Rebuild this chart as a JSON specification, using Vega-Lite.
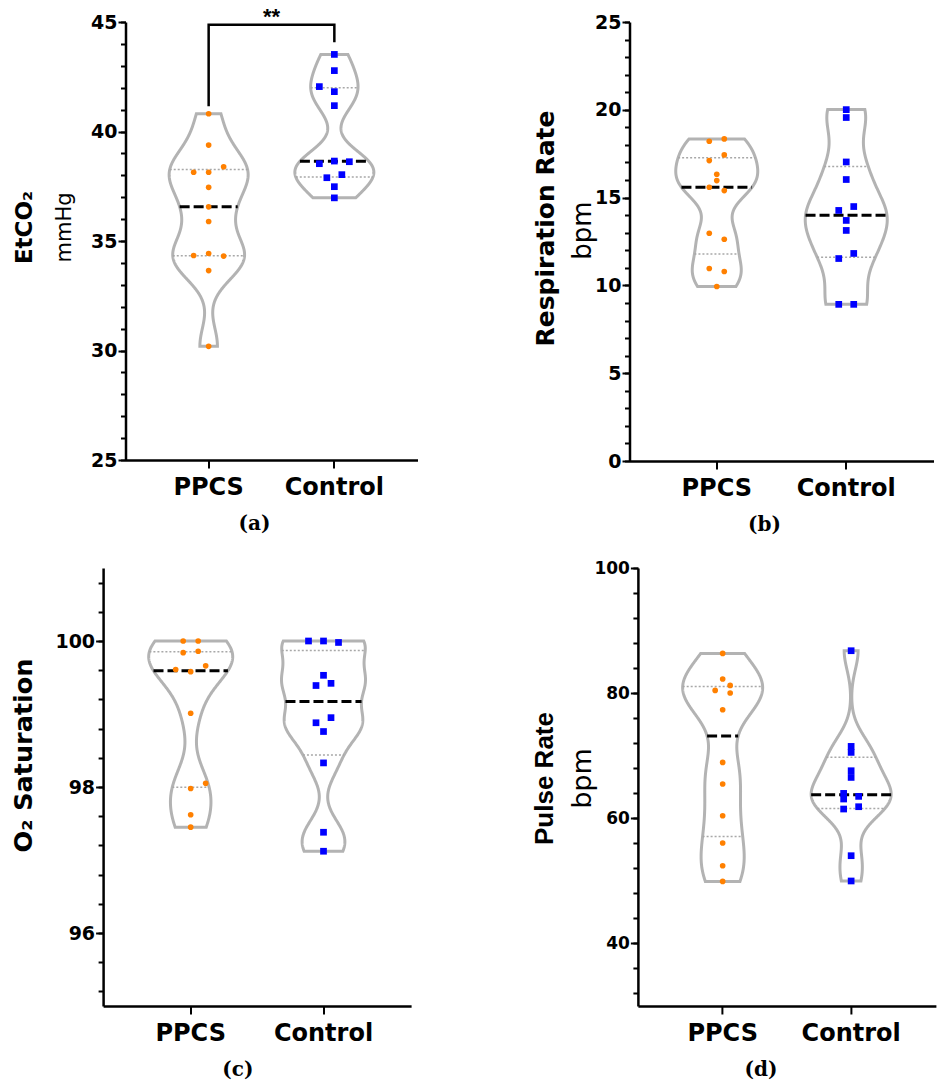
{
"$schema": "https://vega.github.io/schema/vega-lite/v6.json",
"padding": {"left": 11.5, "top": 5, "right": 0, "bottom": 2},
"config": {
  "view": {"stroke": null},
  "axis": {"grid": false, "domainColor": "black", "domainWidth": 2.5, "tickColor": "black", "tickWidth": 2, "labelColor": "black", "titleColor": "black", "labelFont": "DejaVu Sans", "labelFontWeight": "bold", "labelOverlap": false, "titleLimit": 1000}
},
"datasets": {
  "etco2": [
    {"group": "PPCS", "value": 40.81, "lane": 0}, {"group": "PPCS", "value": 39.38, "lane": 0}, {"group": "PPCS", "value": 38.39, "lane": 2}, {"group": "PPCS", "value": 38.14, "lane": -2}, {"group": "PPCS", "value": 38.14, "lane": 0}, {"group": "PPCS", "value": 37.45, "lane": 0}, {"group": "PPCS", "value": 36.56, "lane": 0}, {"group": "PPCS", "value": 35.89, "lane": 0}, {"group": "PPCS", "value": 34.43, "lane": 0}, {"group": "PPCS", "value": 34.34, "lane": -2}, {"group": "PPCS", "value": 34.31, "lane": 2}, {"group": "PPCS", "value": 33.65, "lane": 0}, {"group": "PPCS", "value": 30.19, "lane": 0},
    {"group": "Control", "value": 43.52, "lane": 0}, {"group": "Control", "value": 42.78, "lane": 0}, {"group": "Control", "value": 42.05, "lane": -2}, {"group": "Control", "value": 41.82, "lane": 0}, {"group": "Control", "value": 41.18, "lane": 0}, {"group": "Control", "value": 38.65, "lane": 0}, {"group": "Control", "value": 38.62, "lane": 2}, {"group": "Control", "value": 38.53, "lane": -2}, {"group": "Control", "value": 38.03, "lane": 1}, {"group": "Control", "value": 37.89, "lane": -1}, {"group": "Control", "value": 37.48, "lane": 0}, {"group": "Control", "value": 36.97, "lane": 0}
  ],
  "etco2_stats": [{"group": "PPCS", "med": 36.56, "q1": 34.325, "q3": 38.265}, {"group": "Control", "med": 38.635, "q1": 37.925, "q3": 41.99}],
  "etco2_sig": [{"group": "PPCS", "value": 41.15, "ord": 1}, {"group": "PPCS", "value": 44.88, "ord": 2}, {"group": "Control", "value": 44.88, "ord": 3}, {"group": "Control", "value": 44.07, "ord": 4}],
  "etco2_star": [{"group": "PPCS", "value": 44.88, "label": "**"}],
  "resp": [
    {"group": "PPCS", "value": 18.34, "lane": 1}, {"group": "PPCS", "value": 18.21, "lane": -1}, {"group": "PPCS", "value": 17.43, "lane": 1}, {"group": "PPCS", "value": 17.11, "lane": -1}, {"group": "PPCS", "value": 16.33, "lane": 0}, {"group": "PPCS", "value": 15.97, "lane": 0}, {"group": "PPCS", "value": 15.59, "lane": -1}, {"group": "PPCS", "value": 15.40, "lane": 1}, {"group": "PPCS", "value": 12.97, "lane": -1}, {"group": "PPCS", "value": 12.63, "lane": 1}, {"group": "PPCS", "value": 10.96, "lane": -1}, {"group": "PPCS", "value": 10.79, "lane": 1}, {"group": "PPCS", "value": 9.94, "lane": 0},
    {"group": "Control", "value": 20.01, "lane": 0}, {"group": "Control", "value": 19.56, "lane": 0}, {"group": "Control", "value": 17.03, "lane": 0}, {"group": "Control", "value": 16.03, "lane": 0}, {"group": "Control", "value": 14.49, "lane": 1}, {"group": "Control", "value": 14.27, "lane": -1}, {"group": "Control", "value": 13.70, "lane": 0}, {"group": "Control", "value": 13.13, "lane": 0}, {"group": "Control", "value": 11.82, "lane": 1}, {"group": "Control", "value": 11.53, "lane": -1}, {"group": "Control", "value": 8.92, "lane": -1}, {"group": "Control", "value": 8.92, "lane": 1}
  ],
  "resp_stats": [{"group": "PPCS", "med": 15.59, "q1": 11.795, "q3": 17.27}, {"group": "Control", "med": 13.985, "q1": 11.60, "q3": 16.78}],
  "o2": [
    {"group": "PPCS", "value": 100.0, "lane": -1}, {"group": "PPCS", "value": 100.0, "lane": 1}, {"group": "PPCS", "value": 99.86, "lane": 1}, {"group": "PPCS", "value": 99.84, "lane": -1}, {"group": "PPCS", "value": 99.66, "lane": 2}, {"group": "PPCS", "value": 99.61, "lane": -2}, {"group": "PPCS", "value": 99.58, "lane": 0}, {"group": "PPCS", "value": 99.01, "lane": 0}, {"group": "PPCS", "value": 98.05, "lane": 2}, {"group": "PPCS", "value": 97.98, "lane": 0}, {"group": "PPCS", "value": 97.62, "lane": 0}, {"group": "PPCS", "value": 97.45, "lane": 0},
    {"group": "Control", "value": 100.0, "lane": -2}, {"group": "Control", "value": 100.0, "lane": 0}, {"group": "Control", "value": 99.98, "lane": 2}, {"group": "Control", "value": 99.53, "lane": 0}, {"group": "Control", "value": 99.42, "lane": 1}, {"group": "Control", "value": 99.39, "lane": -1}, {"group": "Control", "value": 98.95, "lane": 1}, {"group": "Control", "value": 98.88, "lane": -1}, {"group": "Control", "value": 98.76, "lane": 0}, {"group": "Control", "value": 98.33, "lane": 0}, {"group": "Control", "value": 97.38, "lane": 0}, {"group": "Control", "value": 97.12, "lane": 0}
  ],
  "o2_stats": [{"group": "PPCS", "med": 99.595, "q1": 97.998, "q3": 99.855}, {"group": "Control", "med": 99.17, "q1": 98.44, "q3": 99.87}],
  "pulse": [
    {"group": "PPCS", "value": 86.35, "lane": 0}, {"group": "PPCS", "value": 82.26, "lane": 0}, {"group": "PPCS", "value": 81.24, "lane": 1}, {"group": "PPCS", "value": 80.44, "lane": -1}, {"group": "PPCS", "value": 80.02, "lane": 1}, {"group": "PPCS", "value": 77.35, "lane": 0}, {"group": "PPCS", "value": 68.93, "lane": 0}, {"group": "PPCS", "value": 65.48, "lane": 0}, {"group": "PPCS", "value": 60.41, "lane": 0}, {"group": "PPCS", "value": 56.05, "lane": 0}, {"group": "PPCS", "value": 52.42, "lane": 0}, {"group": "PPCS", "value": 49.91, "lane": 0},
    {"group": "Control", "value": 86.78, "lane": 0}, {"group": "Control", "value": 71.49, "lane": 0}, {"group": "Control", "value": 70.53, "lane": 0}, {"group": "Control", "value": 67.60, "lane": 0}, {"group": "Control", "value": 66.53, "lane": 0}, {"group": "Control", "value": 63.98, "lane": -1}, {"group": "Control", "value": 63.08, "lane": -1}, {"group": "Control", "value": 63.50, "lane": 1}, {"group": "Control", "value": 61.48, "lane": -1}, {"group": "Control", "value": 61.85, "lane": 1}, {"group": "Control", "value": 54.02, "lane": 0}, {"group": "Control", "value": 49.98, "lane": 0}
  ],
  "pulse_stats": [{"group": "PPCS", "med": 73.14, "q1": 57.14, "q3": 81.04}, {"group": "Control", "med": 63.74, "q1": 61.57, "q3": 69.80}]
},
"spacing": 24,
"vconcat": [
{"hconcat": [
{
 "width": 292, "height": 438,
 "title": {"text": "(a)", "orient": "bottom", "anchor": "middle", "frame": "group", "font": "DejaVu Serif", "fontSize": 20, "fontWeight": "bold", "color": "black", "offset": 15, "dx": -17},
 "layer": [
   {"data": {"name": "etco2"},
    "transform": [{"filter": "datum.group === 'PPCS'"}, {"density": "value", "groupby": ["group"], "bandwidth": 0.95, "steps": 400}, {"stack": "density", "groupby": ["value"], "offset": "center", "as": ["lo", "hi"]}],
    "mark": {"type": "area", "orient": "horizontal", "fill": "white", "stroke": "#b3b3b3", "strokeWidth": 3},
    "encoding": {
     "y": {"field": "value", "type": "quantitative", "scale": {"domain": [25, 45], "nice": false, "zero": false}, "axis": {"orient": "left", "values": [25,26,27,28,29,30,31,32,33,34,35,36,37,38,39,40,41,42,43,44,45], "tickSize": 5, "labels": false, "domain": false, "title": null}},
     "x": {"field": "lo", "type": "quantitative", "scale": {"range": [43.65, 122.65], "zero": false, "nice": false}, "axis": null},
     "x2": {"field": "hi"}}},
   {"data": {"name": "etco2"},
    "transform": [{"filter": "datum.group === 'PPCS'"}, {"density": "value", "groupby": ["group"], "bandwidth": 0.95, "steps": 400}, {"stack": "density", "groupby": ["value"], "offset": "center", "as": ["lo", "hi"]}, {"joinaggregate": [{"op": "min", "field": "value", "as": "vmin"}, {"op": "max", "field": "value", "as": "vmax"}]}, {"lookup": "group", "from": {"data": {"name": "etco2_stats"}, "key": "group", "fields": ["med", "q1", "q3"]}}],
    "mark": {"type": "rule", "stroke": "#a8a8a8", "strokeWidth": 1.5, "strokeDash": [2, 2]},
    "encoding": {
     "y": {"field": "value", "type": "quantitative", "scale": {"domain": [25, 45], "nice": false, "zero": false}, "axis": null},
     "x": {"field": "lo", "type": "quantitative", "scale": {"range": [43.65, 122.65], "zero": false, "nice": false}, "axis": null},
     "x2": {"field": "hi"},
     "strokeOpacity": {"condition": {"test": "abs(datum.value - datum.q1) <= (datum.vmax - datum.vmin) / 800 || abs(datum.value - datum.q3) <= (datum.vmax - datum.vmin) / 800", "value": 1}, "value": 0}}},
   {"data": {"name": "etco2"},
    "transform": [{"filter": "datum.group === 'PPCS'"}, {"density": "value", "groupby": ["group"], "bandwidth": 0.95, "steps": 400}, {"stack": "density", "groupby": ["value"], "offset": "center", "as": ["lo", "hi"]}, {"joinaggregate": [{"op": "min", "field": "value", "as": "vmin"}, {"op": "max", "field": "value", "as": "vmax"}]}, {"lookup": "group", "from": {"data": {"name": "etco2_stats"}, "key": "group", "fields": ["med", "q1", "q3"]}}],
    "mark": {"type": "rule", "stroke": "black", "strokeWidth": 3, "strokeDash": [10, 4]},
    "encoding": {
     "y": {"field": "value", "type": "quantitative", "scale": {"domain": [25, 45], "nice": false, "zero": false}, "axis": null},
     "x": {"field": "lo", "type": "quantitative", "scale": {"range": [43.65, 122.65], "zero": false, "nice": false}, "axis": null},
     "x2": {"field": "hi"},
     "strokeOpacity": {"condition": {"test": "abs(datum.value - datum.med) <= (datum.vmax - datum.vmin) / 800", "value": 1}, "value": 0}}},
   {"data": {"name": "etco2"},
    "transform": [{"filter": "datum.group === 'Control'"}, {"density": "value", "groupby": ["group"], "bandwidth": 0.75, "steps": 400}, {"stack": "density", "groupby": ["value"], "offset": "center", "as": ["lo", "hi"]}],
    "mark": {"type": "area", "orient": "horizontal", "fill": "white", "stroke": "#b3b3b3", "strokeWidth": 3},
    "encoding": {
     "y": {"field": "value", "type": "quantitative", "scale": {"domain": [25, 45], "nice": false, "zero": false}, "axis": {"orient": "left", "domain": false, "ticks": false, "labels": false, "title": "EtCO₂", "titleFont": "DejaVu Sans", "titleFontSize": 23, "titleFontWeight": "bold", "titleAngle": -90, "titleX": -94, "titleY": 205, "titleAlign": "center", "titleBaseline": "alphabetic"}},
     "x": {"field": "lo", "type": "quantitative", "scale": {"range": [169.35, 248.35], "zero": false, "nice": false}, "axis": null},
     "x2": {"field": "hi"}}},
   {"data": {"name": "etco2"},
    "transform": [{"filter": "datum.group === 'Control'"}, {"density": "value", "groupby": ["group"], "bandwidth": 0.75, "steps": 400}, {"stack": "density", "groupby": ["value"], "offset": "center", "as": ["lo", "hi"]}, {"joinaggregate": [{"op": "min", "field": "value", "as": "vmin"}, {"op": "max", "field": "value", "as": "vmax"}]}, {"lookup": "group", "from": {"data": {"name": "etco2_stats"}, "key": "group", "fields": ["med", "q1", "q3"]}}],
    "mark": {"type": "rule", "stroke": "#a8a8a8", "strokeWidth": 1.5, "strokeDash": [2, 2]},
    "encoding": {
     "y": {"field": "value", "type": "quantitative", "scale": {"domain": [25, 45], "nice": false, "zero": false}, "axis": null},
     "x": {"field": "lo", "type": "quantitative", "scale": {"range": [169.35, 248.35], "zero": false, "nice": false}, "axis": null},
     "x2": {"field": "hi"},
     "strokeOpacity": {"condition": {"test": "abs(datum.value - datum.q1) <= (datum.vmax - datum.vmin) / 800 || abs(datum.value - datum.q3) <= (datum.vmax - datum.vmin) / 800", "value": 1}, "value": 0}}},
   {"data": {"name": "etco2"},
    "transform": [{"filter": "datum.group === 'Control'"}, {"density": "value", "groupby": ["group"], "bandwidth": 0.75, "steps": 400}, {"stack": "density", "groupby": ["value"], "offset": "center", "as": ["lo", "hi"]}, {"joinaggregate": [{"op": "min", "field": "value", "as": "vmin"}, {"op": "max", "field": "value", "as": "vmax"}]}, {"lookup": "group", "from": {"data": {"name": "etco2_stats"}, "key": "group", "fields": ["med", "q1", "q3"]}}],
    "mark": {"type": "rule", "stroke": "black", "strokeWidth": 3, "strokeDash": [10, 4]},
    "encoding": {
     "y": {"field": "value", "type": "quantitative", "scale": {"domain": [25, 45], "nice": false, "zero": false}, "axis": null},
     "x": {"field": "lo", "type": "quantitative", "scale": {"range": [169.35, 248.35], "zero": false, "nice": false}, "axis": null},
     "x2": {"field": "hi"},
     "strokeOpacity": {"condition": {"test": "abs(datum.value - datum.med) <= (datum.vmax - datum.vmin) / 800", "value": 1}, "value": 0}}},
   {"data": {"name": "etco2_sig"},
    "mark": {"type": "line", "stroke": "black", "strokeWidth": 2.5, "strokeJoin": "miter"},
    "encoding": {
     "x": {"field": "group", "type": "nominal", "bandPosition": 0.5, "scale": {"type": "band", "domain": ["PPCS", "Control"], "paddingInner": 0, "paddingOuter": 0.1615}, "axis": null},
     "y": {"field": "value", "type": "quantitative", "scale": {"domain": [25, 45], "nice": false, "zero": false}, "axis": null},
     "order": {"field": "ord", "type": "quantitative"}}},
   {"data": {"name": "etco2_star"},
    "mark": {"type": "text", "font": "Liberation Sans", "fontSize": 22, "fontWeight": "bold", "baseline": "alphabetic", "align": "center", "dy": -1, "color": "black"},
    "encoding": {
     "x": {"field": "group", "type": "nominal", "bandPosition": 1, "scale": {"type": "band", "domain": ["PPCS", "Control"], "paddingInner": 0, "paddingOuter": 0.1615}, "axis": null},
     "y": {"field": "value", "type": "quantitative", "scale": {"domain": [25, 45], "nice": false, "zero": false}, "axis": null},
     "text": {"field": "label"}}},
   {"data": {"name": "etco2"},
    "transform": [{"filter": "datum.group === 'PPCS'"}],
    "mark": {"type": "circle", "color": "#ff8000", "size": 32, "opacity": 1},
    "encoding": {
     "x": {"field": "group", "type": "nominal", "scale": {"type": "band", "domain": ["PPCS", "Control"], "paddingInner": 0, "paddingOuter": 0.1615}, "axis": {"title": null, "labelAngle": 0, "labelFontSize": 24, "labelPadding": 7, "tickSize": 8, "bandPosition": 0.5}},
     "xOffset": {"field": "lane", "type": "ordinal", "scale": {"domain": [-2, -1, 0, 1, 2], "range": [47.85, 77.85], "paddingInner": 0, "paddingOuter": 0}},
     "y": {"field": "value", "type": "quantitative", "scale": {"domain": [25, 45], "nice": false, "zero": false}, "axis": {"orient": "left", "values": [25, 30, 35, 40, 45], "tickSize": 7.5, "labelFontSize": 19, "labelPadding": 1, "title": "mmHg", "titleFont": "DejaVu Sans", "titleFontSize": 21, "titleFontWeight": "normal", "titleAngle": -90, "titleX": -55, "titleY": 205, "titleAlign": "center", "titleBaseline": "alphabetic"}}}},
   {"data": {"name": "etco2"},
    "transform": [{"filter": "datum.group === 'Control'"}],
    "mark": {"type": "square", "color": "#0000ff", "size": 45, "opacity": 1, "filled": true},
    "encoding": {
     "x": {"field": "group", "type": "nominal", "scale": {"type": "band", "domain": ["PPCS", "Control"], "paddingInner": 0, "paddingOuter": 0.1615}, "axis": null},
     "xOffset": {"field": "lane", "type": "ordinal", "scale": {"domain": [-2, -1, 0, 1, 2], "range": [47.85, 77.85], "paddingInner": 0, "paddingOuter": 0}},
     "y": {"field": "value", "type": "quantitative", "scale": {"domain": [25, 45], "nice": false, "zero": false}, "axis": null}}}
 ],
 "resolve": {"scale": {"x": "independent", "xOffset": "independent"}, "axis": {"x": "independent", "y": "independent"}}
},
{
 "width": 304, "height": 439,
 "title": {"text": "(b)", "orient": "bottom", "anchor": "middle", "frame": "group", "font": "DejaVu Serif", "fontSize": 20, "fontWeight": "bold", "color": "black", "offset": 15, "dx": -17},
 "layer": [
   {"data": {"name": "resp"},
    "transform": [{"filter": "datum.group === 'PPCS'"}, {"density": "value", "groupby": ["group"], "bandwidth": 1.0, "steps": 400}, {"stack": "density", "groupby": ["value"], "offset": "center", "as": ["lo", "hi"]}],
    "mark": {"type": "area", "orient": "horizontal", "fill": "white", "stroke": "#b3b3b3", "strokeWidth": 3},
    "encoding": {
     "y": {"field": "value", "type": "quantitative", "scale": {"domain": [0, 25], "nice": false, "zero": false}, "axis": {"orient": "left", "values": [0,1,2,3,4,5,6,7,8,9,10,11,12,13,14,15,16,17,18,19,20,21,22,23,24,25], "tickSize": 5, "labels": false, "domain": false, "title": null}},
     "x": {"field": "lo", "type": "quantitative", "scale": {"range": [46.25, 128.25], "zero": false, "nice": false}, "axis": null},
     "x2": {"field": "hi"}}},
   {"data": {"name": "resp"},
    "transform": [{"filter": "datum.group === 'PPCS'"}, {"density": "value", "groupby": ["group"], "bandwidth": 1.0, "steps": 400}, {"stack": "density", "groupby": ["value"], "offset": "center", "as": ["lo", "hi"]}, {"joinaggregate": [{"op": "min", "field": "value", "as": "vmin"}, {"op": "max", "field": "value", "as": "vmax"}]}, {"lookup": "group", "from": {"data": {"name": "resp_stats"}, "key": "group", "fields": ["med", "q1", "q3"]}}],
    "mark": {"type": "rule", "stroke": "#a8a8a8", "strokeWidth": 1.5, "strokeDash": [2, 2]},
    "encoding": {
     "y": {"field": "value", "type": "quantitative", "scale": {"domain": [0, 25], "nice": false, "zero": false}, "axis": null},
     "x": {"field": "lo", "type": "quantitative", "scale": {"range": [46.25, 128.25], "zero": false, "nice": false}, "axis": null},
     "x2": {"field": "hi"},
     "strokeOpacity": {"condition": {"test": "abs(datum.value - datum.q1) <= (datum.vmax - datum.vmin) / 800 || abs(datum.value - datum.q3) <= (datum.vmax - datum.vmin) / 800", "value": 1}, "value": 0}}},
   {"data": {"name": "resp"},
    "transform": [{"filter": "datum.group === 'PPCS'"}, {"density": "value", "groupby": ["group"], "bandwidth": 1.0, "steps": 400}, {"stack": "density", "groupby": ["value"], "offset": "center", "as": ["lo", "hi"]}, {"joinaggregate": [{"op": "min", "field": "value", "as": "vmin"}, {"op": "max", "field": "value", "as": "vmax"}]}, {"lookup": "group", "from": {"data": {"name": "resp_stats"}, "key": "group", "fields": ["med", "q1", "q3"]}}],
    "mark": {"type": "rule", "stroke": "black", "strokeWidth": 3, "strokeDash": [10, 4]},
    "encoding": {
     "y": {"field": "value", "type": "quantitative", "scale": {"domain": [0, 25], "nice": false, "zero": false}, "axis": null},
     "x": {"field": "lo", "type": "quantitative", "scale": {"range": [46.25, 128.25], "zero": false, "nice": false}, "axis": null},
     "x2": {"field": "hi"},
     "strokeOpacity": {"condition": {"test": "abs(datum.value - datum.med) <= (datum.vmax - datum.vmin) / 800", "value": 1}, "value": 0}}},
   {"data": {"name": "resp"},
    "transform": [{"filter": "datum.group === 'Control'"}, {"density": "value", "groupby": ["group"], "bandwidth": 1.28, "steps": 400}, {"stack": "density", "groupby": ["value"], "offset": "center", "as": ["lo", "hi"]}],
    "mark": {"type": "area", "orient": "horizontal", "fill": "white", "stroke": "#b3b3b3", "strokeWidth": 3},
    "encoding": {
     "y": {"field": "value", "type": "quantitative", "scale": {"domain": [0, 25], "nice": false, "zero": false}, "axis": {"orient": "left", "domain": false, "ticks": false, "labels": false, "title": "Respiration Rate", "titleFont": "DejaVu Sans", "titleFontSize": 25, "titleFontWeight": "bold", "titleAngle": -90, "titleX": -75.7, "titleY": 206, "titleAlign": "center", "titleBaseline": "alphabetic"}},
     "x": {"field": "lo", "type": "quantitative", "scale": {"range": [175.75, 257.75], "zero": false, "nice": false}, "axis": null},
     "x2": {"field": "hi"}}},
   {"data": {"name": "resp"},
    "transform": [{"filter": "datum.group === 'Control'"}, {"density": "value", "groupby": ["group"], "bandwidth": 1.28, "steps": 400}, {"stack": "density", "groupby": ["value"], "offset": "center", "as": ["lo", "hi"]}, {"joinaggregate": [{"op": "min", "field": "value", "as": "vmin"}, {"op": "max", "field": "value", "as": "vmax"}]}, {"lookup": "group", "from": {"data": {"name": "resp_stats"}, "key": "group", "fields": ["med", "q1", "q3"]}}],
    "mark": {"type": "rule", "stroke": "#a8a8a8", "strokeWidth": 1.5, "strokeDash": [2, 2]},
    "encoding": {
     "y": {"field": "value", "type": "quantitative", "scale": {"domain": [0, 25], "nice": false, "zero": false}, "axis": null},
     "x": {"field": "lo", "type": "quantitative", "scale": {"range": [175.75, 257.75], "zero": false, "nice": false}, "axis": null},
     "x2": {"field": "hi"},
     "strokeOpacity": {"condition": {"test": "abs(datum.value - datum.q1) <= (datum.vmax - datum.vmin) / 800 || abs(datum.value - datum.q3) <= (datum.vmax - datum.vmin) / 800", "value": 1}, "value": 0}}},
   {"data": {"name": "resp"},
    "transform": [{"filter": "datum.group === 'Control'"}, {"density": "value", "groupby": ["group"], "bandwidth": 1.28, "steps": 400}, {"stack": "density", "groupby": ["value"], "offset": "center", "as": ["lo", "hi"]}, {"joinaggregate": [{"op": "min", "field": "value", "as": "vmin"}, {"op": "max", "field": "value", "as": "vmax"}]}, {"lookup": "group", "from": {"data": {"name": "resp_stats"}, "key": "group", "fields": ["med", "q1", "q3"]}}],
    "mark": {"type": "rule", "stroke": "black", "strokeWidth": 3, "strokeDash": [10, 4]},
    "encoding": {
     "y": {"field": "value", "type": "quantitative", "scale": {"domain": [0, 25], "nice": false, "zero": false}, "axis": null},
     "x": {"field": "lo", "type": "quantitative", "scale": {"range": [175.75, 257.75], "zero": false, "nice": false}, "axis": null},
     "x2": {"field": "hi"},
     "strokeOpacity": {"condition": {"test": "abs(datum.value - datum.med) <= (datum.vmax - datum.vmin) / 800", "value": 1}, "value": 0}}},
   {"data": {"name": "resp"},
    "transform": [{"filter": "datum.group === 'PPCS'"}],
    "mark": {"type": "circle", "color": "#ff8000", "size": 32, "opacity": 1},
    "encoding": {
     "x": {"field": "group", "type": "nominal", "scale": {"type": "band", "domain": ["PPCS", "Control"], "paddingInner": 0, "paddingOuter": 0.174}, "axis": {"title": null, "labelAngle": 0, "labelFontSize": 24, "labelPadding": 7, "tickSize": 8, "bandPosition": 0.5}},
     "xOffset": {"field": "lane", "type": "ordinal", "scale": {"domain": [-2, -1, 0, 1, 2], "range": [49.74, 79.74], "paddingInner": 0, "paddingOuter": 0}},
     "y": {"field": "value", "type": "quantitative", "scale": {"domain": [0, 25], "nice": false, "zero": false}, "axis": {"orient": "left", "values": [0, 5, 10, 15, 20, 25], "tickSize": 7.5, "labelFontSize": 19, "labelPadding": 1, "title": "bpm", "titleFont": "DejaVu Sans", "titleFontSize": 26, "titleFontWeight": "normal", "titleAngle": -90, "titleX": -39, "titleY": 208, "titleAlign": "center", "titleBaseline": "alphabetic"}}}},
   {"data": {"name": "resp"},
    "transform": [{"filter": "datum.group === 'Control'"}],
    "mark": {"type": "square", "color": "#0000ff", "size": 45, "opacity": 1, "filled": true},
    "encoding": {
     "x": {"field": "group", "type": "nominal", "scale": {"type": "band", "domain": ["PPCS", "Control"], "paddingInner": 0, "paddingOuter": 0.174}, "axis": null},
     "xOffset": {"field": "lane", "type": "ordinal", "scale": {"domain": [-2, -1, 0, 1, 2], "range": [49.74, 79.74], "paddingInner": 0, "paddingOuter": 0}},
     "y": {"field": "value", "type": "quantitative", "scale": {"domain": [0, 25], "nice": false, "zero": false}, "axis": null}}}
 ],
 "resolve": {"scale": {"x": "independent", "xOffset": "independent"}, "axis": {"x": "independent", "y": "independent"}}
}
], "spacing": 212, "bounds": "flush"},
{"hconcat": [
{
 "width": 285.6, "height": 438,
 "title": {"text": "(c)", "orient": "bottom", "anchor": "middle", "frame": "group", "font": "DejaVu Serif", "fontSize": 20, "fontWeight": "bold", "color": "black", "offset": 15, "dx": -30.5},
 "layer": [
   {"data": {"name": "o2"},
    "transform": [{"filter": "datum.group === 'PPCS'"}, {"density": "value", "groupby": ["group"], "bandwidth": 0.32, "steps": 400}, {"stack": "density", "groupby": ["value"], "offset": "center", "as": ["lo", "hi"]}],
    "mark": {"type": "area", "orient": "horizontal", "fill": "white", "stroke": "#b3b3b3", "strokeWidth": 3},
    "encoding": {
     "y": {"field": "value", "type": "quantitative", "scale": {"domain": [95, 101], "nice": false, "zero": false}, "axis": {"orient": "left", "offset": 22.4, "values": [95.2, 95.6, 96, 96.4, 96.8, 97.2, 97.6, 98, 98.4, 98.8, 99.2, 99.6, 100, 100.4, 100.8], "tickSize": 5, "labels": false, "domain": false, "title": null}},
     "x": {"field": "lo", "type": "quantitative", "scale": {"range": [23.2, 107.2], "zero": false, "nice": false}, "axis": null},
     "x2": {"field": "hi"}}},
   {"data": {"name": "o2"},
    "transform": [{"filter": "datum.group === 'PPCS'"}, {"density": "value", "groupby": ["group"], "bandwidth": 0.32, "steps": 400}, {"stack": "density", "groupby": ["value"], "offset": "center", "as": ["lo", "hi"]}, {"joinaggregate": [{"op": "min", "field": "value", "as": "vmin"}, {"op": "max", "field": "value", "as": "vmax"}]}, {"lookup": "group", "from": {"data": {"name": "o2_stats"}, "key": "group", "fields": ["med", "q1", "q3"]}}],
    "mark": {"type": "rule", "stroke": "#a8a8a8", "strokeWidth": 1.5, "strokeDash": [2, 2]},
    "encoding": {
     "y": {"field": "value", "type": "quantitative", "scale": {"domain": [95, 101], "nice": false, "zero": false}, "axis": null},
     "x": {"field": "lo", "type": "quantitative", "scale": {"range": [23.2, 107.2], "zero": false, "nice": false}, "axis": null},
     "x2": {"field": "hi"},
     "strokeOpacity": {"condition": {"test": "abs(datum.value - datum.q1) <= (datum.vmax - datum.vmin) / 800 || abs(datum.value - datum.q3) <= (datum.vmax - datum.vmin) / 800", "value": 1}, "value": 0}}},
   {"data": {"name": "o2"},
    "transform": [{"filter": "datum.group === 'PPCS'"}, {"density": "value", "groupby": ["group"], "bandwidth": 0.32, "steps": 400}, {"stack": "density", "groupby": ["value"], "offset": "center", "as": ["lo", "hi"]}, {"joinaggregate": [{"op": "min", "field": "value", "as": "vmin"}, {"op": "max", "field": "value", "as": "vmax"}]}, {"lookup": "group", "from": {"data": {"name": "o2_stats"}, "key": "group", "fields": ["med", "q1", "q3"]}}],
    "mark": {"type": "rule", "stroke": "black", "strokeWidth": 3, "strokeDash": [10, 4]},
    "encoding": {
     "y": {"field": "value", "type": "quantitative", "scale": {"domain": [95, 101], "nice": false, "zero": false}, "axis": null},
     "x": {"field": "lo", "type": "quantitative", "scale": {"range": [23.2, 107.2], "zero": false, "nice": false}, "axis": null},
     "x2": {"field": "hi"},
     "strokeOpacity": {"condition": {"test": "abs(datum.value - datum.med) <= (datum.vmax - datum.vmin) / 800", "value": 1}, "value": 0}}},
   {"data": {"name": "o2"},
    "transform": [{"filter": "datum.group === 'Control'"}, {"density": "value", "groupby": ["group"], "bandwidth": 0.25, "steps": 400}, {"stack": "density", "groupby": ["value"], "offset": "center", "as": ["lo", "hi"]}],
    "mark": {"type": "area", "orient": "horizontal", "fill": "white", "stroke": "#b3b3b3", "strokeWidth": 3},
    "encoding": {
     "y": {"field": "value", "type": "quantitative", "scale": {"domain": [95, 101], "nice": false, "zero": false}, "axis": null},
     "x": {"field": "lo", "type": "quantitative", "scale": {"range": [156.0, 240.0], "zero": false, "nice": false}, "axis": null},
     "x2": {"field": "hi"}}},
   {"data": {"name": "o2"},
    "transform": [{"filter": "datum.group === 'Control'"}, {"density": "value", "groupby": ["group"], "bandwidth": 0.25, "steps": 400}, {"stack": "density", "groupby": ["value"], "offset": "center", "as": ["lo", "hi"]}, {"joinaggregate": [{"op": "min", "field": "value", "as": "vmin"}, {"op": "max", "field": "value", "as": "vmax"}]}, {"lookup": "group", "from": {"data": {"name": "o2_stats"}, "key": "group", "fields": ["med", "q1", "q3"]}}],
    "mark": {"type": "rule", "stroke": "#a8a8a8", "strokeWidth": 1.5, "strokeDash": [2, 2]},
    "encoding": {
     "y": {"field": "value", "type": "quantitative", "scale": {"domain": [95, 101], "nice": false, "zero": false}, "axis": null},
     "x": {"field": "lo", "type": "quantitative", "scale": {"range": [156.0, 240.0], "zero": false, "nice": false}, "axis": null},
     "x2": {"field": "hi"},
     "strokeOpacity": {"condition": {"test": "abs(datum.value - datum.q1) <= (datum.vmax - datum.vmin) / 800 || abs(datum.value - datum.q3) <= (datum.vmax - datum.vmin) / 800", "value": 1}, "value": 0}}},
   {"data": {"name": "o2"},
    "transform": [{"filter": "datum.group === 'Control'"}, {"density": "value", "groupby": ["group"], "bandwidth": 0.25, "steps": 400}, {"stack": "density", "groupby": ["value"], "offset": "center", "as": ["lo", "hi"]}, {"joinaggregate": [{"op": "min", "field": "value", "as": "vmin"}, {"op": "max", "field": "value", "as": "vmax"}]}, {"lookup": "group", "from": {"data": {"name": "o2_stats"}, "key": "group", "fields": ["med", "q1", "q3"]}}],
    "mark": {"type": "rule", "stroke": "black", "strokeWidth": 3, "strokeDash": [10, 4]},
    "encoding": {
     "y": {"field": "value", "type": "quantitative", "scale": {"domain": [95, 101], "nice": false, "zero": false}, "axis": null},
     "x": {"field": "lo", "type": "quantitative", "scale": {"range": [156.0, 240.0], "zero": false, "nice": false}, "axis": null},
     "x2": {"field": "hi"},
     "strokeOpacity": {"condition": {"test": "abs(datum.value - datum.med) <= (datum.vmax - datum.vmin) / 800", "value": 1}, "value": 0}}},
   {"data": {"name": "o2"},
    "transform": [{"filter": "datum.group === 'PPCS'"}],
    "mark": {"type": "circle", "color": "#ff8000", "size": 32, "opacity": 1},
    "encoding": {
     "x": {"field": "group", "type": "nominal", "scale": {"type": "band", "domain": ["PPCS", "Control"], "range": [-22.4, 285.6], "paddingInner": 0, "paddingOuter": 0.1594}, "axis": {"title": null, "labelAngle": 0, "labelFontSize": 24, "labelPadding": 7, "tickSize": 8, "bandPosition": 0.5}},
     "xOffset": {"field": "lane", "type": "ordinal", "scale": {"domain": [-2, -1, 0, 1, 2], "range": [51.41, 81.41], "paddingInner": 0, "paddingOuter": 0}},
     "y": {"field": "value", "type": "quantitative", "scale": {"domain": [95, 101], "nice": false, "zero": false}, "axis": {"orient": "left", "offset": 22.4, "values": [96, 98, 100], "tickSize": 7.5, "labelFontSize": 19, "labelPadding": 1, "title": "O₂ Saturation", "titleFont": "DejaVu Sans", "titleFontSize": 25.5, "titleFontWeight": "bold", "titleAngle": -90, "titleX": -71.3, "titleY": 187, "titleAlign": "center", "titleBaseline": "alphabetic"}}}},
   {"data": {"name": "o2"},
    "transform": [{"filter": "datum.group === 'Control'"}],
    "mark": {"type": "square", "color": "#0000ff", "size": 45, "opacity": 1, "filled": true},
    "encoding": {
     "x": {"field": "group", "type": "nominal", "scale": {"type": "band", "domain": ["PPCS", "Control"], "range": [-22.4, 285.6], "paddingInner": 0, "paddingOuter": 0.1594}, "axis": null},
     "xOffset": {"field": "lane", "type": "ordinal", "scale": {"domain": [-2, -1, 0, 1, 2], "range": [51.41, 81.41], "paddingInner": 0, "paddingOuter": 0}},
     "y": {"field": "value", "type": "quantitative", "scale": {"domain": [95, 101], "nice": false, "zero": false}, "axis": null}}}
 ],
 "resolve": {"scale": {"x": "independent", "xOffset": "independent"}, "axis": {"x": "independent", "y": "independent"}}
},
{
 "width": 298, "height": 438,
 "title": {"text": "(d)", "orient": "bottom", "anchor": "middle", "frame": "group", "font": "DejaVu Serif", "fontSize": 20, "fontWeight": "bold", "color": "black", "offset": 15, "dx": -26},
 "layer": [
   {"data": {"name": "pulse"},
    "transform": [{"filter": "datum.group === 'PPCS'"}, {"density": "value", "groupby": ["group"], "bandwidth": 4, "steps": 400}, {"stack": "density", "groupby": ["value"], "offset": "center", "as": ["lo", "hi"]}],
    "mark": {"type": "area", "orient": "horizontal", "fill": "white", "stroke": "#b3b3b3", "strokeWidth": 3},
    "encoding": {
     "y": {"field": "value", "type": "quantitative", "scale": {"domain": [30, 100], "nice": false, "zero": false}, "axis": {"orient": "left", "values": [32, 36, 40, 44, 48, 52, 56, 60, 64, 68, 72, 76, 80, 84, 88, 92, 96, 100], "tickSize": 5, "labels": false, "domain": false, "title": null}},
     "x": {"field": "lo", "type": "quantitative", "scale": {"range": [44.75, 124.75], "zero": false, "nice": false}, "axis": null},
     "x2": {"field": "hi"}}},
   {"data": {"name": "pulse"},
    "transform": [{"filter": "datum.group === 'PPCS'"}, {"density": "value", "groupby": ["group"], "bandwidth": 4, "steps": 400}, {"stack": "density", "groupby": ["value"], "offset": "center", "as": ["lo", "hi"]}, {"joinaggregate": [{"op": "min", "field": "value", "as": "vmin"}, {"op": "max", "field": "value", "as": "vmax"}]}, {"lookup": "group", "from": {"data": {"name": "pulse_stats"}, "key": "group", "fields": ["med", "q1", "q3"]}}],
    "mark": {"type": "rule", "stroke": "#a8a8a8", "strokeWidth": 1.5, "strokeDash": [2, 2]},
    "encoding": {
     "y": {"field": "value", "type": "quantitative", "scale": {"domain": [30, 100], "nice": false, "zero": false}, "axis": null},
     "x": {"field": "lo", "type": "quantitative", "scale": {"range": [44.75, 124.75], "zero": false, "nice": false}, "axis": null},
     "x2": {"field": "hi"},
     "strokeOpacity": {"condition": {"test": "abs(datum.value - datum.q1) <= (datum.vmax - datum.vmin) / 800 || abs(datum.value - datum.q3) <= (datum.vmax - datum.vmin) / 800", "value": 1}, "value": 0}}},
   {"data": {"name": "pulse"},
    "transform": [{"filter": "datum.group === 'PPCS'"}, {"density": "value", "groupby": ["group"], "bandwidth": 4, "steps": 400}, {"stack": "density", "groupby": ["value"], "offset": "center", "as": ["lo", "hi"]}, {"joinaggregate": [{"op": "min", "field": "value", "as": "vmin"}, {"op": "max", "field": "value", "as": "vmax"}]}, {"lookup": "group", "from": {"data": {"name": "pulse_stats"}, "key": "group", "fields": ["med", "q1", "q3"]}}],
    "mark": {"type": "rule", "stroke": "black", "strokeWidth": 3, "strokeDash": [10, 4]},
    "encoding": {
     "y": {"field": "value", "type": "quantitative", "scale": {"domain": [30, 100], "nice": false, "zero": false}, "axis": null},
     "x": {"field": "lo", "type": "quantitative", "scale": {"range": [44.75, 124.75], "zero": false, "nice": false}, "axis": null},
     "x2": {"field": "hi"},
     "strokeOpacity": {"condition": {"test": "abs(datum.value - datum.med) <= (datum.vmax - datum.vmin) / 800", "value": 1}, "value": 0}}},
   {"data": {"name": "pulse"},
    "transform": [{"filter": "datum.group === 'Control'"}, {"density": "value", "groupby": ["group"], "bandwidth": 3, "steps": 400}, {"stack": "density", "groupby": ["value"], "offset": "center", "as": ["lo", "hi"]}],
    "mark": {"type": "area", "orient": "horizontal", "fill": "white", "stroke": "#b3b3b3", "strokeWidth": 3},
    "encoding": {
     "y": {"field": "value", "type": "quantitative", "scale": {"domain": [30, 100], "nice": false, "zero": false}, "axis": {"orient": "left", "domain": false, "ticks": false, "labels": false, "title": "Pulse Rate", "titleFont": "Liberation Sans", "titleFontSize": 26, "titleFontWeight": "bold", "titleAngle": -90, "titleX": -85.7, "titleY": 210, "titleAlign": "center", "titleBaseline": "alphabetic"}},
     "x": {"field": "lo", "type": "quantitative", "scale": {"range": [173.25, 253.25], "zero": false, "nice": false}, "axis": null},
     "x2": {"field": "hi"}}},
   {"data": {"name": "pulse"},
    "transform": [{"filter": "datum.group === 'Control'"}, {"density": "value", "groupby": ["group"], "bandwidth": 3, "steps": 400}, {"stack": "density", "groupby": ["value"], "offset": "center", "as": ["lo", "hi"]}, {"joinaggregate": [{"op": "min", "field": "value", "as": "vmin"}, {"op": "max", "field": "value", "as": "vmax"}]}, {"lookup": "group", "from": {"data": {"name": "pulse_stats"}, "key": "group", "fields": ["med", "q1", "q3"]}}],
    "mark": {"type": "rule", "stroke": "#a8a8a8", "strokeWidth": 1.5, "strokeDash": [2, 2]},
    "encoding": {
     "y": {"field": "value", "type": "quantitative", "scale": {"domain": [30, 100], "nice": false, "zero": false}, "axis": null},
     "x": {"field": "lo", "type": "quantitative", "scale": {"range": [173.25, 253.25], "zero": false, "nice": false}, "axis": null},
     "x2": {"field": "hi"},
     "strokeOpacity": {"condition": {"test": "abs(datum.value - datum.q1) <= (datum.vmax - datum.vmin) / 800 || abs(datum.value - datum.q3) <= (datum.vmax - datum.vmin) / 800", "value": 1}, "value": 0}}},
   {"data": {"name": "pulse"},
    "transform": [{"filter": "datum.group === 'Control'"}, {"density": "value", "groupby": ["group"], "bandwidth": 3, "steps": 400}, {"stack": "density", "groupby": ["value"], "offset": "center", "as": ["lo", "hi"]}, {"joinaggregate": [{"op": "min", "field": "value", "as": "vmin"}, {"op": "max", "field": "value", "as": "vmax"}]}, {"lookup": "group", "from": {"data": {"name": "pulse_stats"}, "key": "group", "fields": ["med", "q1", "q3"]}}],
    "mark": {"type": "rule", "stroke": "black", "strokeWidth": 3, "strokeDash": [10, 4]},
    "encoding": {
     "y": {"field": "value", "type": "quantitative", "scale": {"domain": [30, 100], "nice": false, "zero": false}, "axis": null},
     "x": {"field": "lo", "type": "quantitative", "scale": {"range": [173.25, 253.25], "zero": false, "nice": false}, "axis": null},
     "x2": {"field": "hi"},
     "strokeOpacity": {"condition": {"test": "abs(datum.value - datum.med) <= (datum.vmax - datum.vmin) / 800", "value": 1}, "value": 0}}},
   {"data": {"name": "pulse"},
    "transform": [{"filter": "datum.group === 'PPCS'"}],
    "mark": {"type": "circle", "color": "#ff8000", "size": 32, "opacity": 1},
    "encoding": {
     "x": {"field": "group", "type": "nominal", "scale": {"type": "band", "domain": ["PPCS", "Control"], "paddingInner": 0, "paddingOuter": 0.1598}, "axis": {"title": null, "labelAngle": 0, "labelFontSize": 24, "labelPadding": 7, "tickSize": 8, "bandPosition": 0.5}},
     "xOffset": {"field": "lane", "type": "ordinal", "scale": {"domain": [-2, -1, 0, 1, 2], "range": [49.24, 79.24], "paddingInner": 0, "paddingOuter": 0}},
     "y": {"field": "value", "type": "quantitative", "scale": {"domain": [30, 100], "nice": false, "zero": false}, "axis": {"orient": "left", "values": [40, 60, 80, 100], "tickSize": 7.5, "labelFontSize": 17, "labelPadding": 1, "title": "bpm", "titleFont": "DejaVu Sans", "titleFontSize": 27, "titleFontWeight": "normal", "titleAngle": -90, "titleX": -47, "titleY": 210, "titleAlign": "center", "titleBaseline": "alphabetic"}}}},
   {"data": {"name": "pulse"},
    "transform": [{"filter": "datum.group === 'Control'"}],
    "mark": {"type": "square", "color": "#0000ff", "size": 45, "opacity": 1, "filled": true},
    "encoding": {
     "x": {"field": "group", "type": "nominal", "scale": {"type": "band", "domain": ["PPCS", "Control"], "paddingInner": 0, "paddingOuter": 0.1598}, "axis": null},
     "xOffset": {"field": "lane", "type": "ordinal", "scale": {"domain": [-2, -1, 0, 1, 2], "range": [49.24, 79.24], "paddingInner": 0, "paddingOuter": 0}},
     "y": {"field": "value", "type": "quantitative", "scale": {"domain": [30, 100], "nice": false, "zero": false}, "axis": null}}}
 ],
 "resolve": {"scale": {"x": "independent", "xOffset": "independent"}, "axis": {"x": "independent", "y": "independent"}}
}
], "spacing": 226.4, "bounds": "flush"}
]
}
